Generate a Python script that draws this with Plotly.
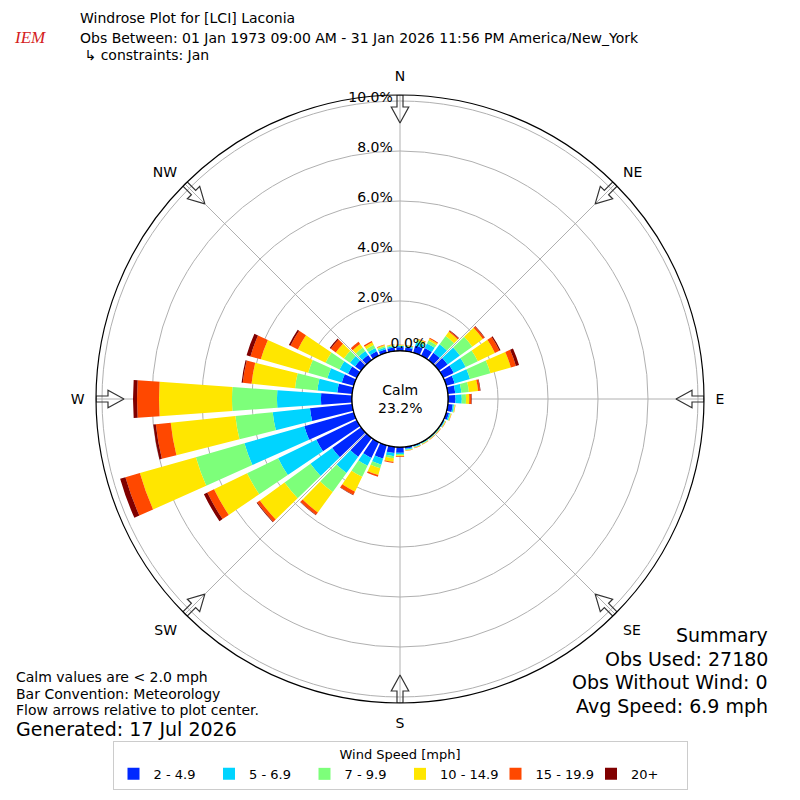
import math

import plotly.graph_objects as go

# wind direction bins (deg, meteorological), 10 deg wide
directions = list(range(0, 360, 10))

# frequency (%) of each speed class per direction bin
spd_2_5 = [0.15, 0.15, 0.30, 0.35, 0.36, 0.43, 0.47, 0.35, 0.30, 0.30, 0.20, 0.12,
           0.05, 0.03, 0.03, 0.03, 0.05, 0.08, 0.23, 0.25, 0.55, 0.70, 0.93, 1.43,
           1.80, 2.06, 1.70, 1.24, 0.60, 0.50, 0.39, 0.30, 0.25, 0.20, 0.15, 0.15]
spd_5_7 = [0.05, 0.05, 0.15, 0.20, 0.42, 0.61, 0.53, 0.64, 0.25, 0.25, 0.05, 0.05,
           0.03, 0.02, 0.02, 0.03, 0.03, 0.04, 0.05, 0.13, 0.26, 0.35, 0.80, 1.07,
           1.70, 2.49, 1.50, 1.76, 0.80, 0.60, 0.38, 0.25, 0.20, 0.15, 0.07, 0.05]
spd_7_10 = [0.02, 0.02, 0.07, 0.13, 0.41, 0.61, 0.54, 0.85, 0.30, 0.17, 0.03, 0.03,
            0.02, 0.02, 0.02, 0.02, 0.02, 0.02, 0.05, 0.08, 0.15, 0.49, 0.94, 1.28,
            1.38, 2.02, 1.50, 1.80, 0.90, 0.80, 0.62, 0.30, 0.17, 0.13, 0.06, 0.04]
spd_10_15 = [0.02, 0.02, 0.05, 0.08, 0.21, 0.52, 0.76, 0.85, 0.37, 0.13, 0.02, 0.02,
             0.02, 0.02, 0.02, 0.02, 0.02, 0.02, 0.04, 0.14, 0.28, 0.66, 1.01, 1.22,
             1.47, 2.33, 2.60, 2.92, 1.75, 1.97, 1.23, 0.40, 0.18, 0.12, 0.04, 0.03]
spd_15_20 = [0.01, 0.01, 0.03, 0.04, 0.05, 0.08, 0.20, 0.21, 0.08, 0.08, 0.01, 0.01,
             0.01, 0.01, 0.01, 0.01, 0.01, 0.01, 0.03, 0.05, 0.07, 0.14, 0.12, 0.13,
             0.30, 0.60, 0.60, 0.88, 0.35, 0.43, 0.33, 0.25, 0.10, 0.06, 0.03, 0.01]
spd_20p = [0.00, 0.00, 0.00, 0.00, 0.02, 0.02, 0.05, 0.13, 0.02, 0.02, 0.00, 0.00,
           0.00, 0.00, 0.00, 0.00, 0.00, 0.00, 0.00, 0.00, 0.00, 0.02, 0.02, 0.03,
           0.15, 0.22, 0.10, 0.16, 0.05, 0.16, 0.07, 0.05, 0.01, 0.00, 0.00, 0.00]

speed_labels = ["2 - 4.9", "5 - 6.9", "7 - 9.9", "10 - 14.9", "15 - 19.9", "20+"]
speed_colors = ["#0028ff", "#00d4ff", "#7dff7a", "#ffe600", "#ff4800", "#800000"]

compass_angles = [0, 45, 90, 135, 180, 225, 270, 315]
compass_labels = ["N", "NE", "E", "SE", "S", "SW", "W", "NW"]
radial_ticks = [0, 2, 4, 6, 8, 10]

calm_pct = 23.2
summary = ["Summary", "Obs Used: 27180", "Obs Without Wind: 0", "Avg Speed: 6.9 mph"]
notes = ["Calm values are &lt; 2.0 mph", "Bar Convention: Meteorology",
         "Flow arrows relative to plot center."]

R_MAX = 10.24
HOLE_PCT = 1.92  # calm circle radius expressed in % units
LABEL_LIFT = 0.1  # raise radial labels a little above their ring
PAGE_OFF = 8     # browser body margin

fig = go.Figure()

for vals, name, col in zip([spd_2_5, spd_5_7, spd_7_10, spd_10_15, spd_15_20, spd_20p],
                           speed_labels, speed_colors):
    fig.add_trace(go.Barpolar(r=vals, theta=directions, width=8.2, name=name,
                              marker=dict(color=col, line=dict(width=0))))

# calm circle outline
fig.add_trace(go.Scatterpolar(r=[0] * 73, theta=list(range(0, 365, 5)), mode="lines",
                              line=dict(color="black", width=1.3),
                              showlegend=False, hoverinfo="skip"))


# hollow flow arrows on the rim, pointing inward
def arrow(d):
    pts = [(R_MAX, -0.12), (9.76, -0.12), (9.76, -0.35), (9.12, 0.0),
           (9.76, 0.35), (9.76, 0.12), (R_MAX, 0.12), (R_MAX, -0.12)]
    rr, tt = [], []
    for v, w in pts:
        reff = HOLE_PCT + v
        rr.append(math.hypot(reff, w) - HOLE_PCT)
        tt.append(d + math.degrees(math.atan2(w, reff)))
    return rr, tt


for d in compass_angles:
    rr, tt = arrow(d)
    fig.add_trace(go.Scatterpolar(r=rr, theta=tt, mode="lines",
                                  line=dict(color="#333333", width=1.2),
                                  showlegend=False, hoverinfo="skip"))

# radial tick labels: 0% just right of N at the calm circle, others left of the N line
tick_text = ["%.1f%%" % t for t in radial_ticks]
fig.add_trace(go.Scatterpolar(r=[0], theta=[10], mode="text", text=tick_text[:1],
                              textposition="top center",
                              textfont=dict(family="DejaVu Sans", size=14, color="black"),
                              showlegend=False, hoverinfo="skip", cliponaxis=False))
fig.add_trace(go.Scatterpolar(r=[t + LABEL_LIFT for t in radial_ticks[1:]],
                              theta=[0] * (len(radial_ticks) - 1), mode="text",
                              text=[s + "\u00a0\u2009" for s in tick_text[1:]],
                              textposition="middle left",
                              textfont=dict(family="DejaVu Sans", size=14, color="black"),
                              showlegend=False, hoverinfo="skip", cliponaxis=False))


def px(x):
    return (x - PAGE_OFF) / 800


def py(y):
    return 1 - (y - PAGE_OFF) / 800


fig.update_layout(
    width=800, height=800,
    margin=dict(l=0, r=0, t=0, b=0),
    paper_bgcolor="white",
    font=dict(family="DejaVu Sans", size=14, color="black"),
    polar=dict(
        domain=dict(x=[px(96), px(704)], y=[py(703), py(95)]),
        bgcolor="white",
        hole=0.158,
        barmode="stack",
        radialaxis=dict(range=[0, R_MAX], tickvals=radial_ticks, showticklabels=False,
                        angle=90, showline=False, ticks="", gridcolor="#b0b0b0",
                        gridwidth=1),
        angularaxis=dict(direction="clockwise", rotation=90, tickmode="array",
                         tickvals=compass_angles, ticktext=compass_labels,
                         showline=True, linecolor="black", linewidth=1.2,
                         gridcolor="#b0b0b0", gridwidth=1, ticks="outside",
                         ticklen=8, tickcolor="rgba(0,0,0,0)",
                         tickfont=dict(size=14)),
    ),
    legend=dict(orientation="h", x=px(400), xanchor="center", y=py(790), yanchor="bottom",
                bordercolor="#cccccc", borderwidth=1, bgcolor="white",
                title=dict(text="Wind Speed [mph]", side="top center", font=dict(size=13)),
                font=dict(size=13), itemwidth=30, entrywidth=50.5),
)

ann = []


def txt(s, x, y, size=14, anchor="left", color="black", family="DejaVu Sans"):
    shift = {"left": 2, "right": -2, "center": 0}[anchor]
    ann.append(dict(text=s, x=px(x - shift), y=py(y), xref="paper", yref="paper",
                    xanchor=anchor, yanchor="middle", showarrow=False,
                    font=dict(size=size, color=color, family=family)))


txt("Windrose Plot for [LCI] Laconia", 80, 18)
txt("Obs Between: 01 Jan 1973 09:00 AM - 31 Jan 2026 11:56 PM America/New_York", 80, 38)
txt(" ↳ constraints: Jan", 80, 55)
txt("<i>IEM</i>", 14, 38, size=17, color="#d42020", family="Liberation Serif")
txt("Calm<br>%.1f%%" % calm_pct, 400, 399, anchor="center")
for i, s in enumerate(notes):
    txt(s, 16, 677 + i * 16.5)
txt("Generated: 17 Jul 2026", 16, 729, size=19)
for i, s in enumerate(summary):
    txt(s, 768, 635 + i * 23.7, size=19, anchor="right")

fig.update_layout(annotations=ann)

fig.write_html("out.html")
